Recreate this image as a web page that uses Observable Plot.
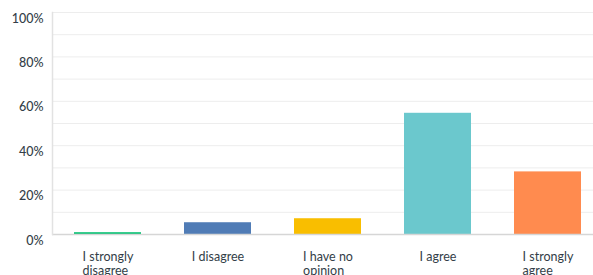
<!DOCTYPE html>
<html>
<head>
<meta charset="utf-8">
<script src="https://cdn.jsdelivr.net/npm/d3@7"></script>
<script src="https://cdn.jsdelivr.net/npm/@observablehq/plot@0.6"></script>
<style>
  html, body { margin: 0; padding: 0; background: #fff; overflow: hidden; }
</style>
</head>
<body>
<div id="chart"></div>
<script>
const categories = ["I strongly disagree", "I disagree", "I have no opinion", "I agree", "I strongly agree"];
const labelLines = [["I strongly", "disagree"], ["I disagree"], ["I have no", "opinion"], ["I agree"], ["I strongly", "agree"]];
const values = [0.8, 5.3, 7.1, 54.6, 28.2];
const colors = ["#00BF6F", "#507CB6", "#F9BE00", "#6BC8CD", "#FF8B4F"];
const yTicks = [0, 20, 40, 60, 80, 100];
const gridTicks = [10, 20, 30, 40, 50, 60, 70, 80, 90, 100];

const data = categories.map((c, i) => ({category: c, value: values[i]}));

const fontFamily = "Lato, 'Open Sans', sans-serif";
const labelSize = 12.5;
const ctx = document.createElement("canvas").getContext("2d");
ctx.font = `${labelSize}px ${fontFamily}`;

const labelMarks = categories.map((c, i) => {
  const lines = labelLines[i];
  const w = Math.max(...lines.map(l => ctx.measureText(l).width));
  return Plot.text([c], {
    x: d => d,
    frameAnchor: "bottom",
    text: () => lines.join("\n"),
    textAnchor: "start",
    lineAnchor: "top",
    lineHeight: 1.15,
    dx: -w / 2,
    dy: 16,
    fill: "#333e48",
    fontSize: labelSize
  });
});

const chart = Plot.plot({
  width: 593,
  height: 275,
  marginLeft: 52,
  marginRight: 0,
  marginTop: 12,
  marginBottom: 41,
  style: {fontFamily, background: "#fff"},
  x: {domain: categories, paddingInner: 0.39, paddingOuter: 0.154, align: 0.65, axis: null},
  y: {domain: [0, 100], axis: null},
  color: {domain: categories, range: colors},
  marks: [
    Plot.ruleY(gridTicks, {stroke: "#ededed", strokeWidth: 1}),
    Plot.barY(data, {x: "category", y: "value", fill: "category"}),
    Plot.ruleY([0], {stroke: "#d6d6d6", strokeWidth: 1.5}),
    Plot.frame({anchor: "left", stroke: "#e2e2e2", strokeWidth: 1.5}),
    Plot.axisY({ticks: yTicks, tickFormat: d => d + "%", tickSize: 0, tickPadding: 9, dy: 6, fontSize: 12.5, fill: "#333e48", fontWeight: 500, label: null}),
    ...labelMarks
  ]
});
document.getElementById("chart").appendChild(chart);
</script>
</body>
</html>
